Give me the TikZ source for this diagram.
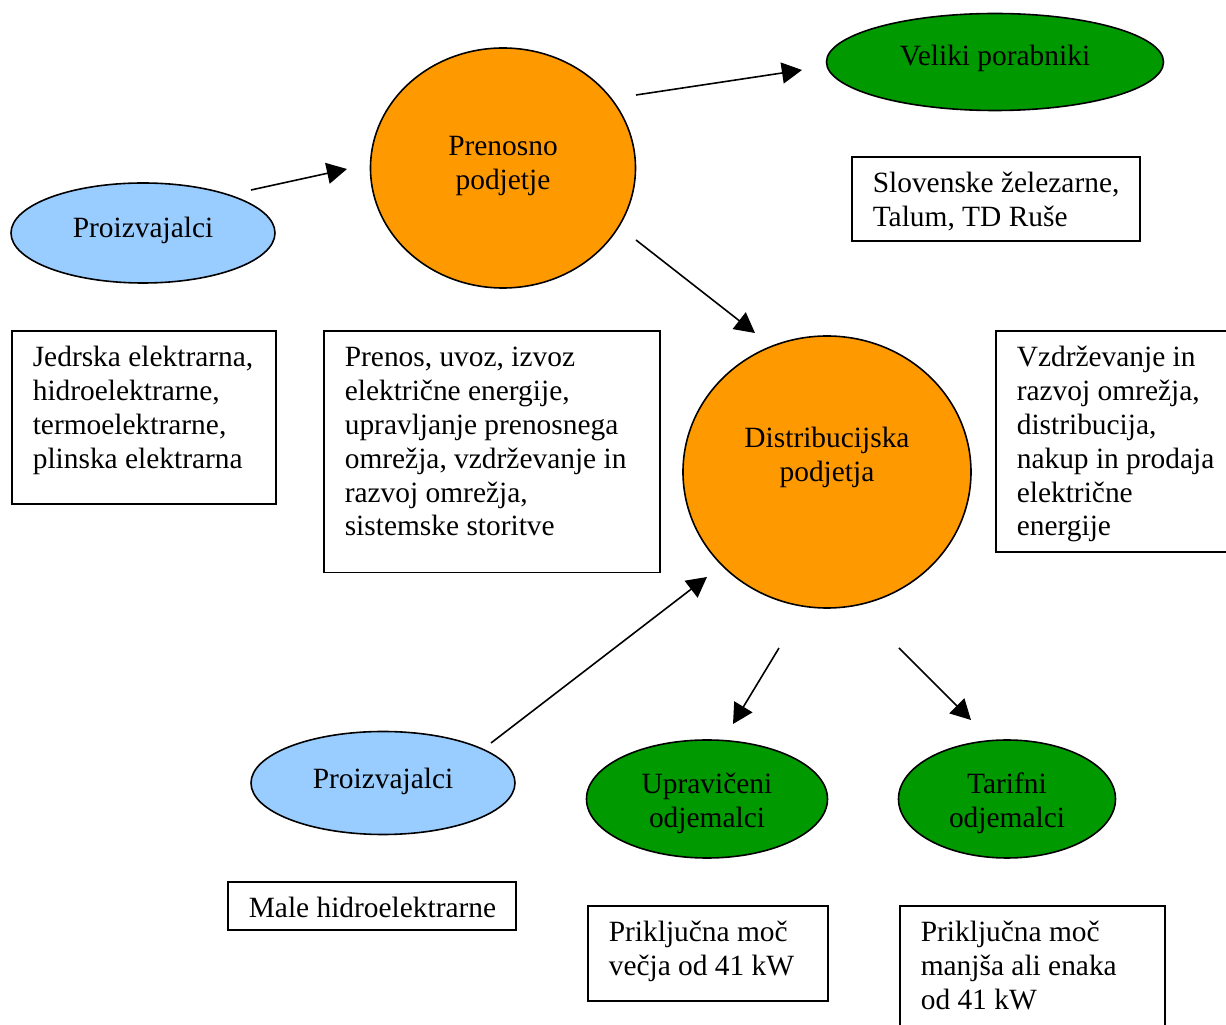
\documentclass[tikz,border=0pt]{standalone}
\usepackage{fontspec}
\setmainfont{Liberation Serif}
\usetikzlibrary{shapes.geometric,arrows.meta}
\definecolor{lblue}{HTML}{99CCFF}
\definecolor{orng}{HTML}{FF9900}
\definecolor{grn}{HTML}{009900}
\def\pxl{0.408pt}
\newcommand\twoline[2]{\begin{tabular}{@{}c@{}}#1\\#2\end{tabular}}
\newcommand\lift[2]{\raisebox{#1}[0pt][0pt]{#2}}
\newcommand\boxtxt[3]{\parbox[c][#2][t]{#1}{\raggedright\leftskip=8.57pt\relax\rule{0pt}{14.7pt}#3}}
\begin{document}
\begin{tikzpicture}[x=0.408pt, y=-0.408pt,
  font=\fontsize{12pt}{13.8pt}\selectfont,
  ell/.style={ellipse, draw, line width=0.65pt, inner sep=0pt},
  infobox/.style={draw, line width=0.65pt, anchor=north west, inner sep=0pt},
  arr/.style={-{Triangle[length=8.2pt,width=8.6pt]}, line width=0.65pt}]
\useasboundingbox (0,0) rectangle (1226,1025);
\clip (0,0) rectangle (1226,1025);

% ellipses / circles
\node[ell, fill=lblue, minimum width=264*\pxl, minimum height=100*\pxl] (prodA) at (143,233) {\lift{-1.9pt}{Proizvajalci}};
\node[ell, fill=orng, minimum width=265*\pxl, minimum height=240*\pxl] (prenos) at (503,168) {\lift{-2.2pt}{\twoline{Prenosno}{podjetje}}};
\node[ell, fill=grn, minimum width=337*\pxl, minimum height=97*\pxl] (veliki) at (995,62) {\lift{-1.3pt}{Veliki porabniki}};
\node[ell, fill=orng, minimum width=288*\pxl, minimum height=272*\pxl] (distr) at (827,472) {\lift{2.7pt}{\twoline{Distribucijska}{podjetja}}};
\node[ell, fill=lblue, minimum width=264*\pxl, minimum height=103*\pxl] (prodB) at (383,783) {\lift{-2.3pt}{Proizvajalci}};
\node[ell, fill=grn, minimum width=241*\pxl, minimum height=118*\pxl] (uprav) at (707,799) {\lift{-4.8pt}{\twoline{Upravičeni}{odjemalci}}};
\node[ell, fill=grn, minimum width=217*\pxl, minimum height=118*\pxl] (tarif) at (1007,799) {\lift{-4.8pt}{\twoline{Tarifni}{odjemalci}}};

% text boxes
\node[infobox] (jed) at (11,330)
  {\boxtxt{107.7pt}{70.6pt}{Jedrska elektrarna,\\hidroelektrarne,\\termoelektrarne,\\plinska elektrarna}};
\node[infobox] (prenosbox) at (323,330)
  {\boxtxt{137.1pt}{98.7pt}{Prenos, uvoz, izvoz\\električne energije,\\upravljanje prenosnega\\omrežja, vzdrževanje in\\razvoj omrežja,\\sistemske storitve}};
\node[infobox] (slo) at (851,156)
  {\boxtxt{117.5pt}{34.3pt}{Slovenske železarne,\\Talum, TD Ruše}};
\node[infobox] (vzd) at (995,330)
  {\boxtxt{97.9pt}{90.2pt}{Vzdrževanje in\\razvoj omrežja,\\distribucija,\\nakup in prodaja\\električne\\energije}};
\node[infobox] (male) at (227,881)
  {\boxtxt{117.5pt}{19.6pt}{Male hidroelektrarne}};
\node[infobox] (vecja) at (587,905)
  {\boxtxt{97.9pt}{38.8pt}{Priključna moč\\večja od 41 kW}};
\node[infobox] (manjsa) at (899,905)
  {\boxtxt{108.1pt}{57.1pt}{Priključna moč\\manjša ali enaka\\od 41 kW}};

% arrows
\coordinate (a1s) at (251,190); \coordinate (a1e) at (347,169);
\coordinate (a2s) at (636,95);  \coordinate (a2e) at (802,70);
\coordinate (a3s) at (636,240); \coordinate (a3e) at (755,333);
\coordinate (a4s) at (491,743); \coordinate (a4e) at (707,577);
\coordinate (a5s) at (779,648); \coordinate (a5e) at (733,724);
\coordinate (a6s) at (899,648); \coordinate (a6e) at (971,720);
\draw[arr] (a1s) -- (a1e);
\draw[arr] (a2s) -- (a2e);
\draw[arr] (a3s) -- (a3e);
\draw[arr] (a4s) -- (a4e);
\draw[arr] (a5s) -- (a5e);
\draw[arr] (a6s) -- (a6e);
\end{tikzpicture}
\end{document}
